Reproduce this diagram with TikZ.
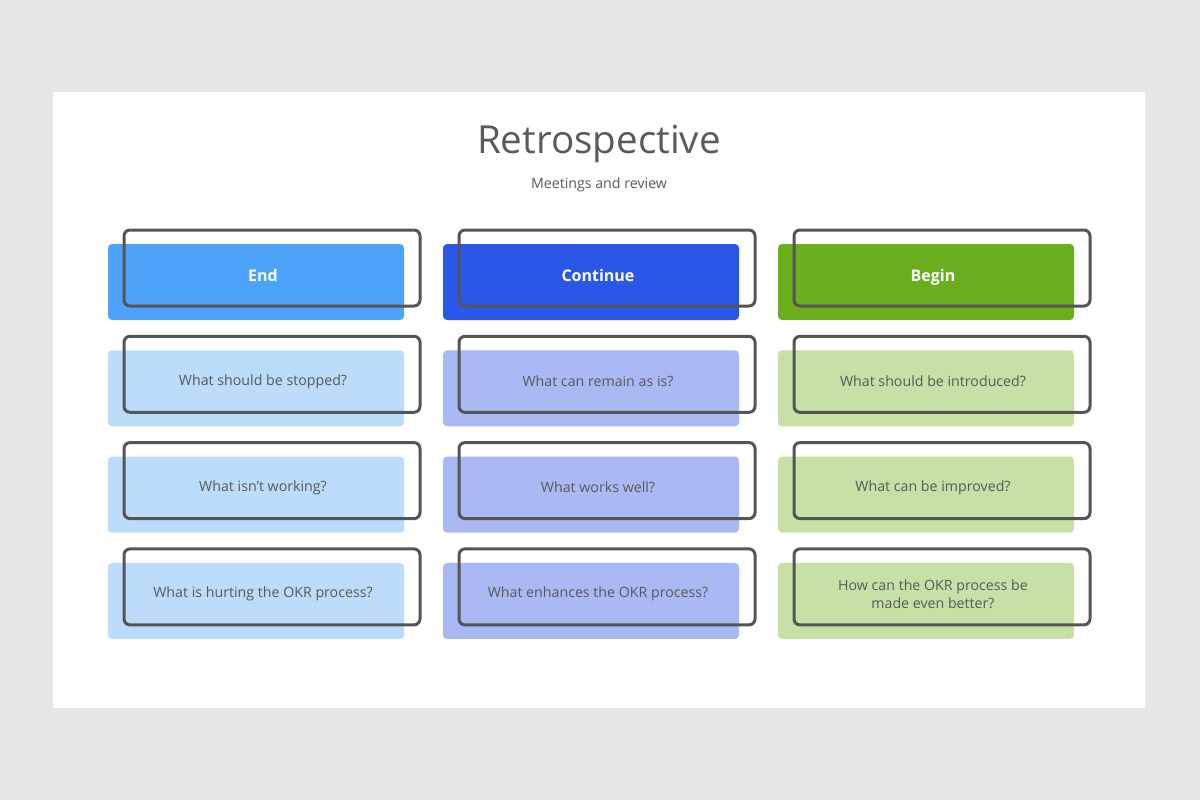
\documentclass[tikz,border=0pt]{standalone}
\usepackage{fontspec}
\setmainfont{Open Sans}
\usetikzlibrary{positioning}

\definecolor{pagegray}{HTML}{E8E6E8}
\definecolor{inkgray}{HTML}{5A5A5A}
\definecolor{ringgray}{HTML}{555555}
\definecolor{endblue}{HTML}{4DA3FA}
\definecolor{contblue}{HTML}{2A57E8}
\definecolor{begingreen}{HTML}{6AAE1E}
\definecolor{endlight}{HTML}{BBDCFB}
\definecolor{contlight}{HTML}{AAB9F3}
\definecolor{beginlight}{HTML}{C7E0A6}

\begin{document}
\begin{tikzpicture}[
      x=0.5pt, y=-0.5pt,
      node distance=14.75pt and 19.1pt,
      cell/.style={rectangle, rounded corners=2pt, minimum width=148pt,
        minimum height=38pt, inner sep=0pt},
      ring/.style={rectangle, draw=ringgray, line width=1.5pt, rounded corners=3pt,
        minimum width=148pt, minimum height=38pt, inner sep=0pt},
      head/.style={font=\fontsize{8}{10}\selectfont\bfseries, text=white,
        text height=1.5ex, text depth=.25ex},
      ask/.style={font=\fontsize{7.1}{9}\selectfont, text=inkgray, align=center},
    ]
    % page and card
    \fill[pagegray] (0,0) rectangle (1200,800);
    \fill[white] (53,92) rectangle (1145,708);
    \node[font=\fontsize{19.3}{23}\selectfont, text=inkgray] (title) at (599,144) {Retrospective};
    \node[font=\fontsize{7.1}{9}\selectfont, text=inkgray] (sub) at (599,185) {Meetings and review};

    % filled cells
    \node[cell, fill=endblue] (end) at (256,282) {};
    \node[cell, fill=contblue, right=of end] (cont) {};
    \node[cell, fill=begingreen, right=of cont] (begin) {};
    \node[cell, fill=endlight, below=of end] (e1) {};
    \node[cell, fill=endlight, below=of e1] (e2) {};
    \node[cell, fill=endlight, below=of e2] (e3) {};
    \node[cell, fill=contlight, below=of cont] (c1) {};
    \node[cell, fill=contlight, below=of c1] (c2) {};
    \node[cell, fill=contlight, below=of c2] (c3) {};
    \node[cell, fill=beginlight, below=of begin] (b1) {};
    \node[cell, fill=beginlight, below=of b1] (b2) {};
    \node[cell, fill=beginlight, below=of b2] (b3) {};

    % texts
    \node[head] (end-t) at ([shift={(3.5pt,3.5pt)}]end.center) {End};
    \node[head] (cont-t) at ([shift={(3.5pt,3.5pt)}]cont.center) {Continue};
    \node[head] (begin-t) at ([shift={(3.5pt,3.5pt)}]begin.center) {Begin};
    \node[ask] (e1-t) at ([shift={(3.5pt,3.5pt)}]e1.center) {What should be stopped?};
    \node[ask] (e2-t) at ([shift={(3.5pt,3.5pt)}]e2.center) {What isn't working?};
    \node[ask] (e3-t) at ([shift={(3.5pt,3.5pt)}]e3.center) {What is hurting the OKR process?};
    \node[ask] (c1-t) at ([shift={(3.5pt,3.5pt)}]c1.center) {What can remain as is?};
    \node[ask] (c2-t) at ([shift={(3.5pt,3.5pt)}]c2.center) {What works well?};
    \node[ask] (c3-t) at ([shift={(3.5pt,3.5pt)}]c3.center) {What enhances the OKR process?};
    \node[ask] (b1-t) at ([shift={(3.5pt,3.5pt)}]b1.center) {What should be introduced?};
    \node[ask] (b2-t) at ([shift={(3.5pt,3.5pt)}]b2.center) {What can be improved?};
    \node[ask] (b3-t) at ([shift={(3.5pt,3.5pt)}]b3.center) {How can the OKR process be\\made even better?};

    % outlines on top
    \node[ring] (end-r) at ([shift={(8pt,7pt)}]end.center) {};
    \node[ring] (cont-r) at ([shift={(8pt,7pt)}]cont.center) {};
    \node[ring] (begin-r) at ([shift={(8pt,7pt)}]begin.center) {};
    \node[ring] (e1-r) at ([shift={(8pt,7pt)}]e1.center) {};
    \node[ring] (e2-r) at ([shift={(8pt,7pt)}]e2.center) {};
    \node[ring] (e3-r) at ([shift={(8pt,7pt)}]e3.center) {};
    \node[ring] (c1-r) at ([shift={(8pt,7pt)}]c1.center) {};
    \node[ring] (c2-r) at ([shift={(8pt,7pt)}]c2.center) {};
    \node[ring] (c3-r) at ([shift={(8pt,7pt)}]c3.center) {};
    \node[ring] (b1-r) at ([shift={(8pt,7pt)}]b1.center) {};
    \node[ring] (b2-r) at ([shift={(8pt,7pt)}]b2.center) {};
    \node[ring] (b3-r) at ([shift={(8pt,7pt)}]b3.center) {};
  \end{tikzpicture}
\end{document}
